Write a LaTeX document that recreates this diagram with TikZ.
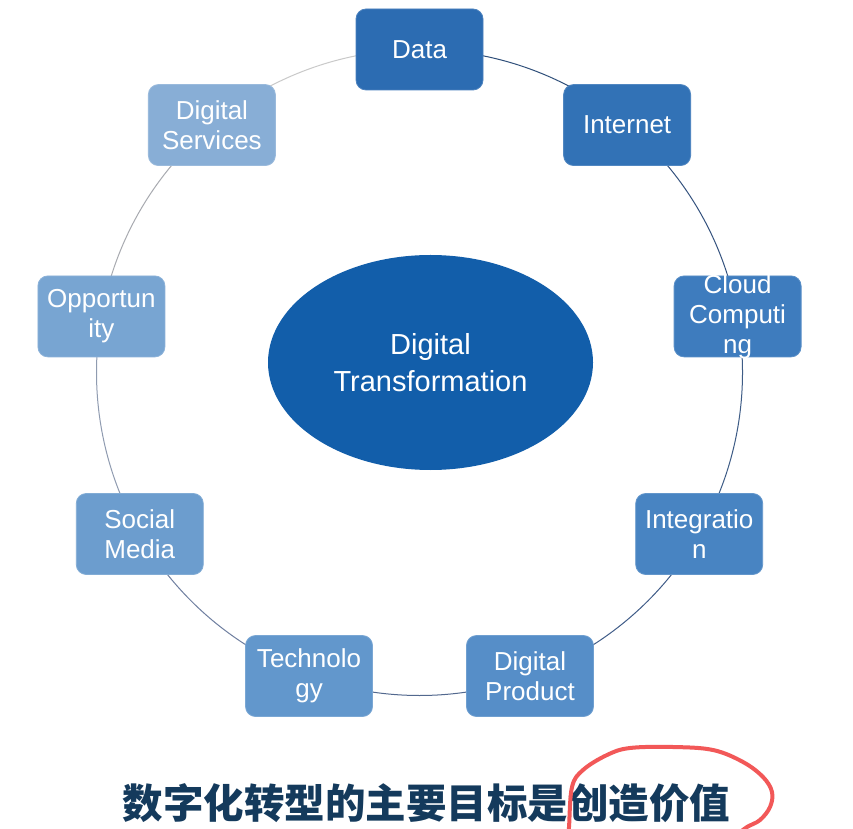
\documentclass[tikz,border=0pt]{standalone}
\usepackage{fontspec}
\setmainfont{Liberation Sans}
\newfontfamily\cjkfont{Noto Sans CJK SC}[BoldFont={Noto Sans CJK SC Black}]
\usetikzlibrary{shapes.geometric}
\pgfdeclarelayer{background}
\pgfdeclarelayer{canvas}
\pgfsetlayers{canvas,background,main}
\definecolor{cData}{RGB}{44,108,178}
\definecolor{cInt}{RGB}{50,114,182}
\definecolor{cCloud}{RGB}{62,124,190}
\definecolor{cInteg}{RGB}{72,132,194}
\definecolor{cProd}{RGB}{86,142,200}
\definecolor{cTech}{RGB}{98,151,204}
\definecolor{cSoc}{RGB}{108,157,206}
\definecolor{cOpp}{RGB}{120,165,210}
\definecolor{cServ}{RGB}{136,174,214}
\definecolor{cEll}{RGB}{18,94,170}
\definecolor{cTitle}{RGB}{20,58,92}
\definecolor{cRed}{RGB}{242,88,88}
\definecolor{r1}{RGB}{47,79,122}
\definecolor{r2}{RGB}{52,82,126}
\definecolor{r3}{RGB}{62,92,134}
\definecolor{r4}{RGB}{64,92,136}
\definecolor{r5}{RGB}{82,104,142}
\definecolor{r6}{RGB}{111,127,160}
\definecolor{r7}{RGB}{143,155,176}
\definecolor{r8}{RGB}{168,170,176}
\definecolor{r9}{RGB}{201,201,201}
\begin{document}
\begin{tikzpicture}[x=1pt,y=1pt,
  box/.style={rectangle, rounded corners=10pt, minimum width=127pt, minimum height=81pt, inner sep=0pt, line width=0.8pt},
  lbl/.style={text=white, font=\fontsize{26}{30}\selectfont, align=center, inner sep=0pt},
  ring/.style={line width=1pt},
]
\useasboundingbox (0,0) rectangle (853,828);
\begin{pgfonlayer}{canvas}
\fill[white] (0,0) rectangle (853,828);
\end{pgfonlayer}
\clip (0,0) rectangle (853,828);
\coordinate (ctr) at (419.5,455.5);

\node[box, fill=cData, draw=cData!85!white] (data) at ([shift={(90:323)}]ctr) {};
\node[box, fill=cInt, draw=cInt!85!white] (internet) at ([shift={(50:323)}]ctr) {};
\node[box, fill=cCloud, draw=cCloud!85!white] (cloud) at ([shift={(10:323)}]ctr) {};
\node[box, fill=cInteg, draw=cInteg!85!white] (integ) at ([shift={(-30:323)}]ctr) {};
\node[box, fill=cProd, draw=cProd!85!white] (dprod) at ([shift={(-70:323)}]ctr) {};
\node[box, fill=cTech, draw=cTech!85!white] (tech) at ([shift={(-110:323)}]ctr) {};
\node[box, fill=cSoc, draw=cSoc!85!white] (social) at ([shift={(-150:323)}]ctr) {};
\node[box, fill=cOpp, draw=cOpp!85!white] (opp) at ([shift={(170:323)}]ctr) {};
\node[box, fill=cServ, draw=cServ!85!white] (dserv) at ([shift={(130:323)}]ctr) {};

\node[lbl] (dataT) at (data) {Data};
\node[lbl] (internetT) at (internet) {Internet};
\node[lbl] (cloudT) at (cloud) {Cloud\\Computi\\ng};
\node[lbl] (integT) at (integ) {Integratio\\n};
\node[lbl] (dprodT) at (dprod) {Digital\\Product};
\node[lbl] (techT) at (tech) {Technolo\\gy};
\node[lbl] (socialT) at (social) {Social\\Media};
\node[lbl] (oppT) at (opp) {Opportun\\ity};
\node[lbl] (dservT) at (dserv) {Digital\\Services};

\begin{pgfonlayer}{background}
\draw[ring, r1] (data.center) arc[start angle=90, end angle=50, radius=323];
\draw[ring, r2] (internet.center) arc[start angle=50, end angle=10, radius=323];
\draw[ring, r3] (cloud.center) arc[start angle=10, end angle=-30, radius=323];
\draw[ring, r4] (integ.center) arc[start angle=-30, end angle=-70, radius=323];
\draw[ring, r5] (dprod.center) arc[start angle=-70, end angle=-110, radius=323];
\draw[ring, r6] (tech.center) arc[start angle=-110, end angle=-150, radius=323];
\draw[ring, r7] (social.center) arc[start angle=-150, end angle=-190, radius=323];
\draw[ring, r8] (opp.center) arc[start angle=170, end angle=130, radius=323];
\draw[ring, r9] (dserv.center) arc[start angle=130, end angle=90, radius=323];
\end{pgfonlayer}

\node[ellipse, fill=cEll, minimum width=325pt, minimum height=215pt, inner sep=0pt] (dt) at (430.5,465.5) {};
\node[text=white, font=\fontsize{29}{37}\selectfont, align=center, inner sep=0pt] (dtT) at (dt) {Digital\\Transformation};

\node[anchor=base, text=cTitle, font=\cjkfont\bfseries\fontsize{40.5}{44}\selectfont, inner sep=0pt] (title) at (426.5,10) {数字化转型的主要目标是创造价值};

\draw[cRed, line width=4pt, line cap=round, line join=round] plot[smooth, tension=0.6] coordinates {(568,-6) (569,1) (572,41) (583,58) (607,73) (630,80) (673,81) (713,78) (743,66) (763,51) (772,36) (770,21) (760,8) (747,1) (738,-6)};
\end{tikzpicture}
\end{document}
